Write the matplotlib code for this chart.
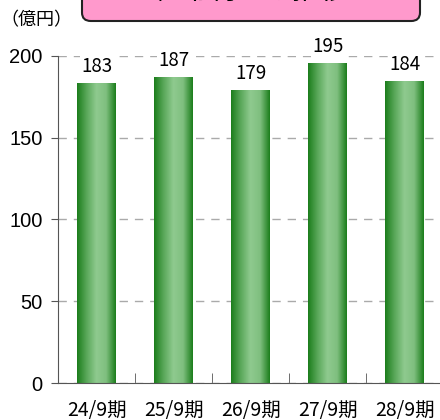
import matplotlib.pyplot as plt
import numpy as np
from matplotlib.colors import LinearSegmentedColormap
from matplotlib.patches import FancyBboxPatch

plt.rcParams['font.family'] = ['Noto Sans CJK JP', 'DejaVu Sans']

periods = ['24/9期', '25/9期', '26/9期', '27/9期', '28/9期']
values = [183, 187, 179, 195, 184]
yticks = [0, 50, 100, 150, 200]

fig = plt.figure(figsize=(4.4, 4.2), dpi=100)
ax = fig.add_axes([0.132, 0.088, 0.875, 0.779])

# green cylinder-like shading across each bar
green = LinearSegmentedColormap.from_list('g', ['#1b7d1b', '#5aa85a', '#8fca8f', '#7fbf7f', '#1b7d1b'])
grad = np.linspace(0, 1, 256).reshape(1, -1)

x = np.arange(len(periods))
w = 0.5
for xi, v in zip(x, values):
    ax.imshow(grad, cmap=green, aspect='auto', extent=(xi - w / 2, xi + w / 2, 0, v), zorder=2)
    ax.text(xi, v + 4, str(v), ha='center', va='bottom', fontsize=13.5,
            bbox=dict(facecolor='white', edgecolor='none', pad=1), zorder=3)

ax.set_xlim(-0.5, len(periods) - 0.5)
ax.set_ylim(0, 200)
ax.set_yticks(yticks)
ax.set_yticklabels([str(t) for t in yticks], family='Liberation Sans', fontsize=14.5)
ax.yaxis.grid(True, linestyle=(0, (6, 5)), color='#aaaaaa', linewidth=1, zorder=1)
ax.set_axisbelow(True)

ax.set_xticks(x)
ax.set_xticklabels(periods, fontsize=14)
ax.tick_params(axis='x', length=0, pad=12)
ax.set_xticks(x[:-1] + 0.5, minor=True)
ax.tick_params(axis='x', which='minor', direction='in', length=7, color='#555555')
ax.tick_params(axis='y', length=5, color='#555555', pad=6)

for s in ['top', 'right']:
    ax.spines[s].set_visible(False)
for s in ['left', 'bottom']:
    ax.spines[s].set_color('#555555')

# title box running off the top edge
box = FancyBboxPatch((82 / 440, 1 - 21 / 420), 338 / 440, 60 / 420,
                     boxstyle='round,pad=0,rounding_size=0.02', transform=fig.transFigure,
                     facecolor='#ff99cc', edgecolor='#222222', linewidth=1.5)
fig.patches.append(box)
fig.text(0.57, 1 - 6 / 420, '経常利益の推移', ha='center', va='bottom', fontsize=20)

fig.text(0.0, 1 - 20 / 420, '（億円）', ha='left', va='center', fontsize=13)

fig.savefig('out.png', dpi=100)
